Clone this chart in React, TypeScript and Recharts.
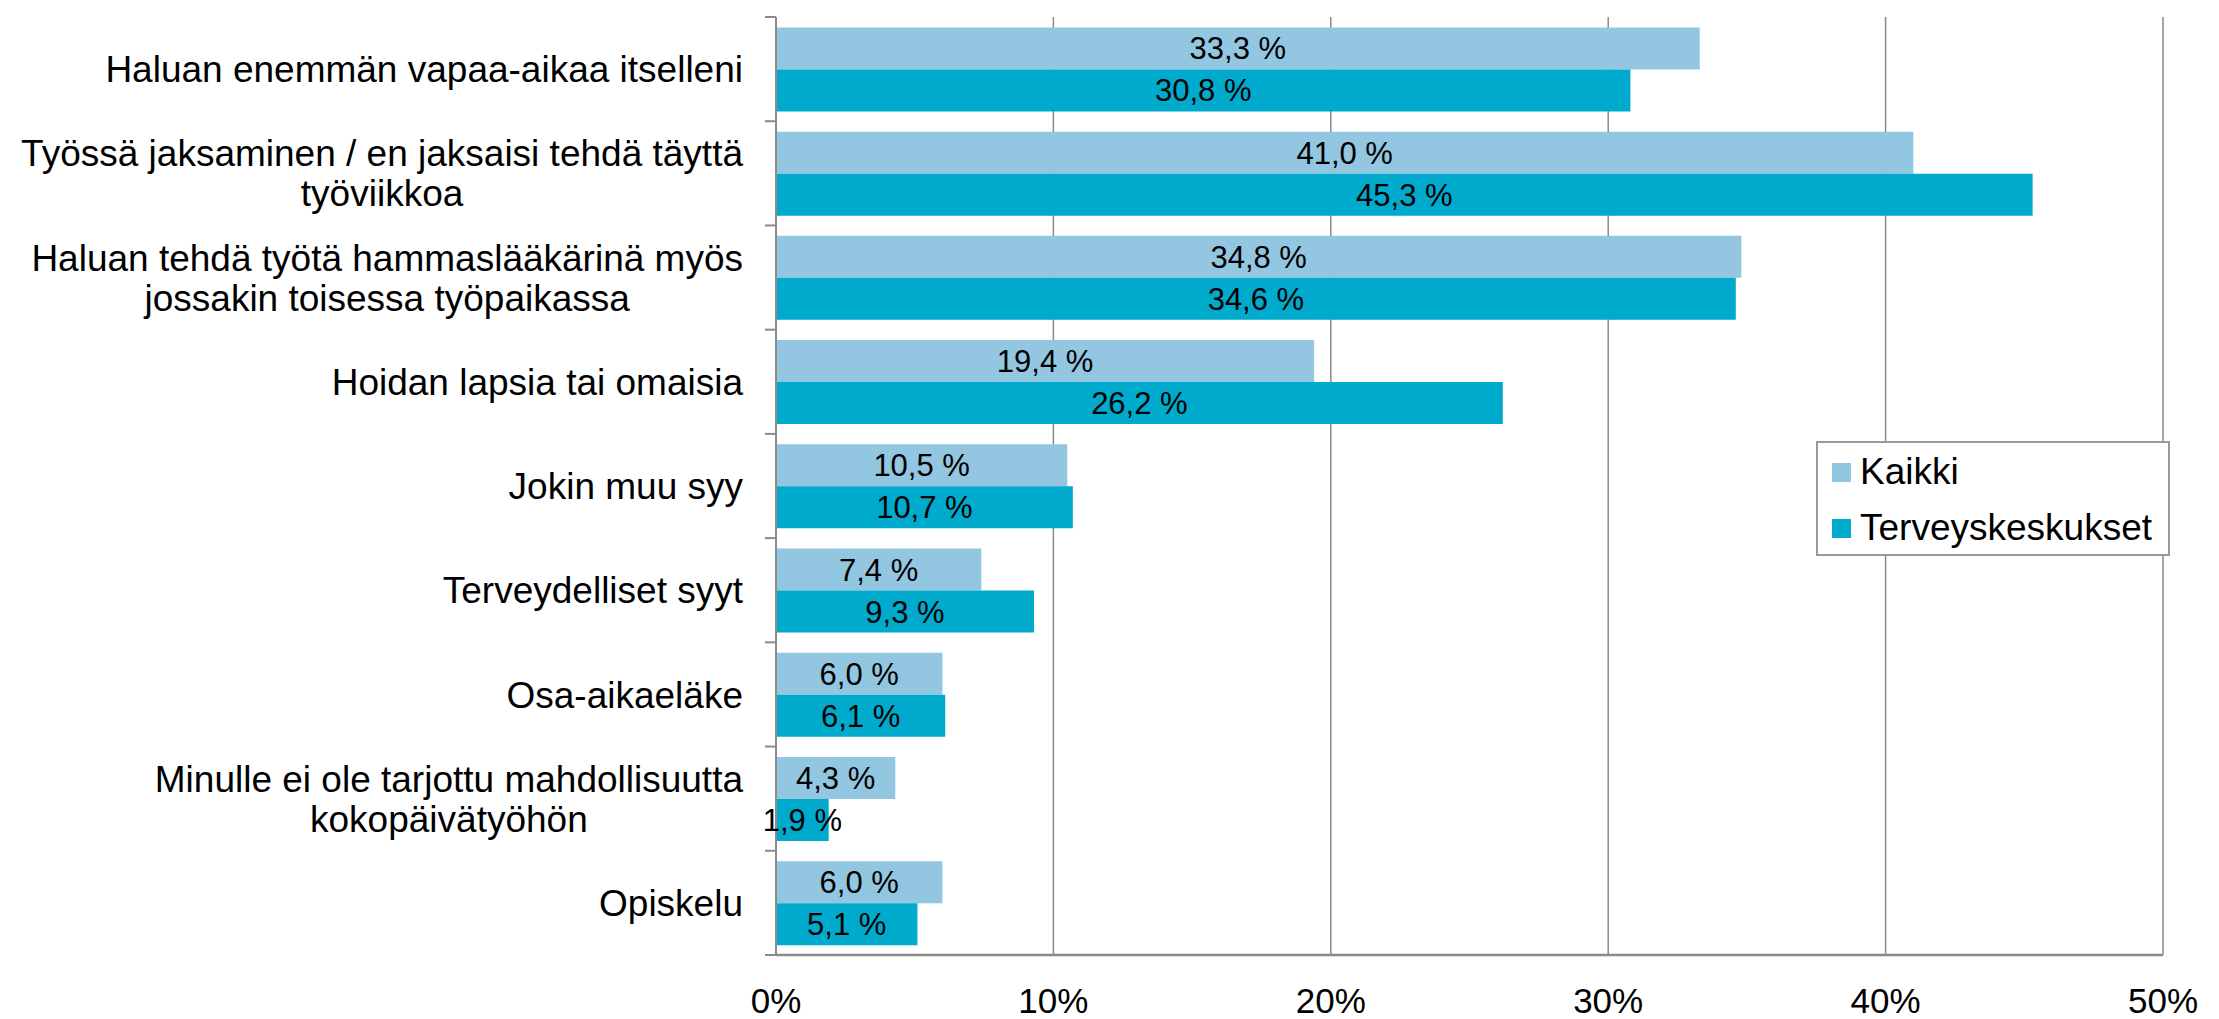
import { BarChart, Bar, XAxis, YAxis, CartesianGrid, Legend, LabelList } from "recharts";

const categories = [
  "Haluan enemmän vapaa-aikaa itselleni",
  "Työssä jaksaminen / en jaksaisi tehdä täyttä\ntyöviikkoa",
  "Haluan tehdä työtä hammaslääkärinä myös\njossakin toisessa työpaikassa",
  "Hoidan lapsia tai omaisia",
  "Jokin muu syy",
  "Terveydelliset syyt",
  "Osa-aikaeläke",
  "Minulle ei ole tarjottu mahdollisuutta\nkokopäivätyöhön",
  "Opiskelu",
];
const kaikki = [33.3, 41.0, 34.8, 19.4, 10.5, 7.4, 6.0, 4.3, 6.0];
const terveyskeskukset = [30.8, 45.3, 34.6, 26.2, 10.7, 9.3, 6.1, 1.9, 5.1];
const xTicks = [0, 10, 20, 30, 40, 50];

const FONT = '"Liberation Sans", Arial, sans-serif';
const GRID = "#8a8a8a";
const C_KAIKKI = "#93c6e1";
const C_TK = "#00aacd";

const W = 2219;
const H = 1019;
const CAT_FS = 37;
const LINE_H = 40;
const Y_MARGIN = 33;

const data = categories.map((c, i) => ({
  name: c,
  kaikki: kaikki[i],
  tk: terveyskeskukset[i],
}));

let ctx: CanvasRenderingContext2D | null = null;
function measure(s: string) {
  if (!ctx) ctx = document.createElement("canvas").getContext("2d");
  if (!ctx) return s.length * CAT_FS * 0.5;
  ctx.font = `${CAT_FS}px ${FONT}`;
  return ctx.measureText(s).width;
}

function CategoryTick(props: any) {
  const { x, y, payload, index } = props;
  const lines = String(payload.value).split("\n");
  const half = payload.offset || (H - 17 - 64) / categories.length / 2;
  const maxW = Math.max(...lines.map(measure));
  const cx = x - maxW / 2;
  const y0 = y - ((lines.length - 1) * LINE_H) / 2;
  const ax = x + Y_MARGIN;
  return (
    <g>
      <line x1={ax - 11} x2={ax} y1={y - half} y2={y - half} stroke={GRID} strokeWidth={2} />
      {index === categories.length - 1 && (
        <line x1={ax - 11} x2={ax} y1={y + half} y2={y + half} stroke={GRID} strokeWidth={2} />
      )}
      <text textAnchor="middle" fontSize={CAT_FS} fontFamily={FONT} fill="#000">
        {lines.map((l, i) => (
          <tspan key={i} x={cx} y={y0 + i * LINE_H} dy="0.355em">
            {l}
          </tspan>
        ))}
      </text>
    </g>
  );
}

function EmptyTick() {
  return <g />;
}

function LegendBox(props: any) {
  const items = props.payload || [];
  return (
    <div
      style={{
        background: "#fff",
        border: "2px solid #9a9a9a",
        width: 354,
        height: 115,
        boxSizing: "border-box",
        paddingTop: 1,
      }}
    >
      {items.map((it: any) => (
        <div key={it.value} style={{ display: "flex", alignItems: "center", height: 56 }}>
          <span style={{ width: 19, height: 19, background: it.color, marginLeft: 14, marginRight: 9 }} />
          <span style={{ fontSize: 37, fontFamily: FONT, color: "#000" }}>{it.value}</span>
        </div>
      ))}
    </div>
  );
}

const fmt = (v: any) => `${Number(v).toFixed(1).replace(".", ",")} %`;

export default function App() {
  return (
    <div style={{ position: "absolute", left: 0, top: 0, width: W, height: H, background: "#fff" }}>
      <BarChart
        width={W}
        height={H}
        data={data}
        layout="vertical"
        margin={{ top: 17, right: 56, bottom: 0, left: 0 }}
        barCategoryGap="10%"
        barGap={0}
      >
        <CartesianGrid horizontal={false} stroke={GRID} strokeWidth={1.5} xAxisId="main" />
        <XAxis
          xAxisId="main"
          type="number"
          domain={[0, 50]}
          ticks={xTicks}
          tickFormatter={(v) => `${v}%`}
          height={64}
          axisLine={{ stroke: GRID, strokeWidth: 2.5 }}
          tickLine={false}
          tickSize={6}
          tickMargin={27}
          tick={{ fontSize: 35, fontFamily: FONT, fill: "#000" }}
        />
        <XAxis
          xAxisId="top"
          orientation="top"
          type="number"
          domain={[0, 50]}
          ticks={xTicks}
          height={0}
          axisLine={{ stroke: GRID, strokeWidth: 2.5 }}
          tickLine={{ stroke: GRID, strokeWidth: 1.5 }}
          tickSize={11}
          tick={EmptyTick}
        />
        <YAxis
          type="category"
          dataKey="name"
          width={776}
          axisLine={{ stroke: GRID, strokeWidth: 2 }}
          tickLine={false}
          tickSize={0}
          tickMargin={Y_MARGIN}
          interval={0}
          tick={CategoryTick}
        />
        <Legend
          layout="horizontal"
          verticalAlign="middle"
          align="center"
          content={LegendBox}
          wrapperStyle={{ position: "absolute", left: 1816, top: 441, width: 354, height: 115 }}
        />
        <Bar dataKey="kaikki" name="Kaikki" fill={C_KAIKKI} xAxisId="main" isAnimationActive={false}>
          <LabelList dataKey="kaikki" position="center" formatter={fmt} fontSize={31} fontFamily={FONT} fill="#000" />
        </Bar>
        <Bar dataKey="tk" name="Terveyskeskukset" fill={C_TK} xAxisId="main" isAnimationActive={false}>
          <LabelList dataKey="tk" position="center" formatter={fmt} fontSize={31} fontFamily={FONT} fill="#000" />
        </Bar>
      </BarChart>
    </div>
  );
}
